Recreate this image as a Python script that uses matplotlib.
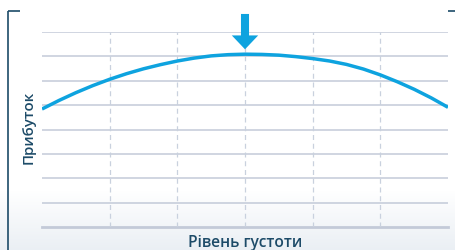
import numpy as np
import matplotlib
matplotlib.use("Agg")
import matplotlib.pyplot as plt

# data
density = [0, 0.25, 0.5, 0.75, 1, 1.25, 1.5, 1.75, 2, 2.25, 2.5, 2.75, 3,
           3.25, 3.5, 3.75, 4, 4.25, 4.5, 4.75, 5, 5.25, 5.5, 5.75, 6]
profit = [4.84, 5.19, 5.51, 5.80, 6.06, 6.29, 6.49, 6.66, 6.81, 6.93, 7.02, 7.07, 7.09,
          7.08, 7.05, 6.99, 6.91, 6.81, 6.67, 6.48, 6.24, 5.96, 5.65, 5.30, 4.91]
optimum_x = 3
x_label = "Рівень густоти"
y_label = "Прибуток"

W, H = 455, 250
fig = plt.figure(figsize=(W / 100, H / 100), dpi=100)

# background gradient
bg = fig.add_axes([0, 0, 1, 1])
grad = np.ones((250, 1, 3))
top = np.array([1.0, 1.0, 1.0])
bot = np.array([0.918, 0.937, 0.957])
for i in range(250):
    t = max(0.0, (i - 190) / 60.0)
    grad[i, 0] = top * (1 - t) + bot * t
bg.imshow(grad, aspect="auto", extent=[0, 1, 0, 1], origin="upper")
bg.set_xlim(0, 1); bg.set_ylim(0, 1)
bg.axis("off")

frame_col = "#1d4b68"
# bracket lines
bg.plot([8 / W, 8 / W], [0, 1 - 11 / H], color=frame_col, lw=1.2, solid_capstyle="butt")
bg.plot([8 / W, 20 / W], [1 - 11 / H, 1 - 11 / H], color=frame_col, lw=1.2, solid_capstyle="butt")
bg.plot([448 / W, 455 / W], [1 - 11 / H, 1 - 11 / H], color=frame_col, lw=1.2, solid_capstyle="butt")

ax = fig.add_axes([42 / W, (H - 227) / H, (448 - 42) / W, (227 - 32) / H])
ax.set_facecolor("none")
ax.set_xlim(0, 6)
ax.set_ylim(0, 8)
for s in ax.spines.values():
    s.set_visible(False)
ax.set_xticks([]); ax.set_yticks([])

for yv in range(1, 9):
    ax.axhline(yv, color="#c3cad8", lw=1.1, zorder=1)
ax.axhline(0, color="#c3cad8", lw=2.0, zorder=1, clip_on=False)
for xv in range(1, 6):
    ax.axvline(xv, color="#c9d1de", lw=0.9, ls=(0, (4, 3)), zorder=1)

ax.plot(density, profit, color="#0ea3df", lw=2.5, zorder=3,
        solid_capstyle="butt", solid_joinstyle="round")

ax.annotate("", xy=(optimum_x, 7.29), xytext=(optimum_x, 8.74),
            arrowprops=dict(arrowstyle="simple,head_length=10,head_width=19,tail_width=5.8",
                            color="#0ea3df", shrinkA=0, shrinkB=0, mutation_scale=1, lw=0),
            annotation_clip=False)

fig.text(245 / W, 1 - 243 / H, x_label, ha="center", va="center", fontsize=11.2,
         family="Open Sans", weight="semibold", color=frame_col)
fig.text(29 / W, 1 - 127.5 / H, y_label, ha="center", va="center", fontsize=10.8,
         family="Open Sans", weight="semibold", color=frame_col, rotation=90)

fig.savefig("out.png", dpi=100)
